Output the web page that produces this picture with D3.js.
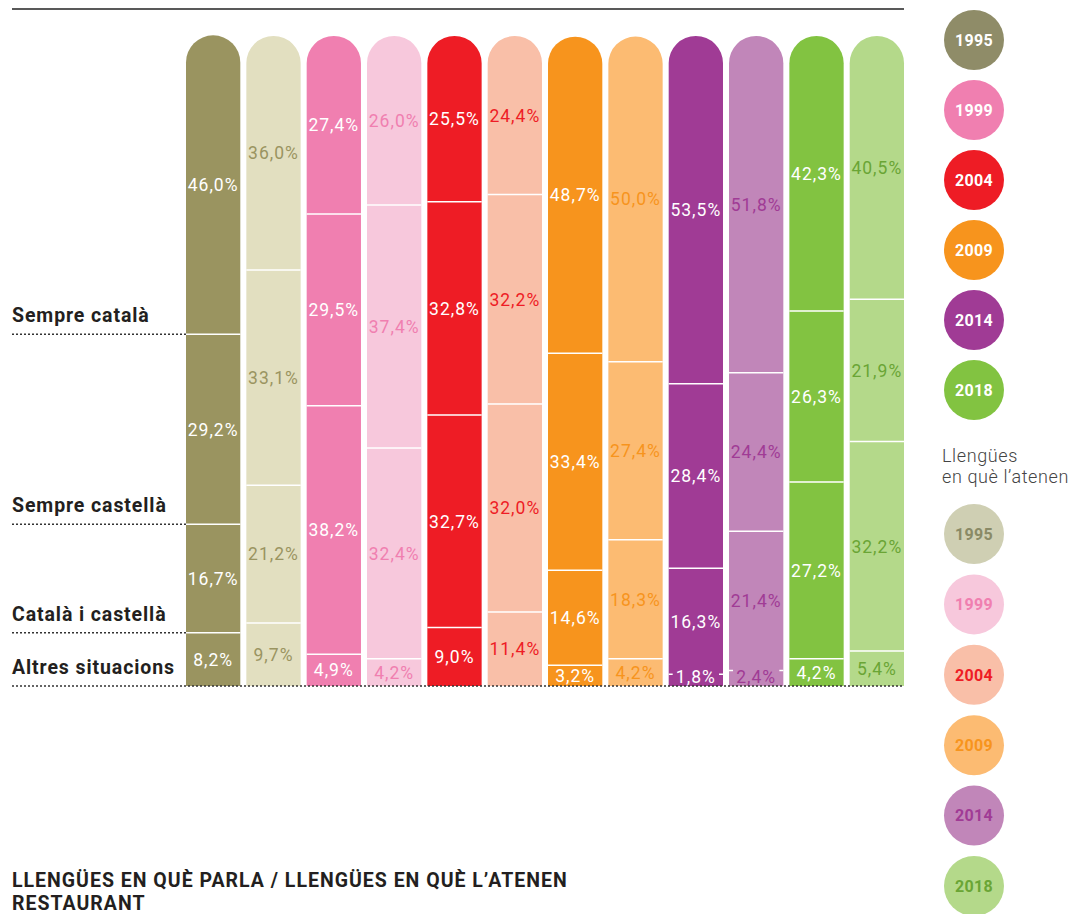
<!DOCTYPE html>
<html lang="ca">
<head>
<meta charset="utf-8">
<script src="https://cdn.jsdelivr.net/npm/d3@7"></script>
<style>
  html, body { margin: 0; padding: 0; background: #fff; }
  svg { display: block; }
</style>
</head>
<body>
<svg id="chart" width="1072" height="914"></svg>
<script>
// Years surveyed and stacked answer categories (bottom to top)
const years = ["1995", "1999", "2004", "2009", "2014", "2018"];
const segments = ["Altres situacions", "Català i castellà", "Sempre castellà", "Sempre català"];

// Languages the client speaks (%)
const parlaAltres   = [8.2, 4.9, 9.0, 3.2, 1.8, 4.2];
const parlaAmbdues  = [16.7, 38.2, 32.7, 14.6, 16.3, 27.2];
const parlaCastella = [29.2, 29.5, 32.8, 33.4, 28.4, 26.3];
const parlaCatala   = [46.0, 27.4, 25.5, 48.7, 53.5, 42.3];

// Languages the client is attended in (%)
const atenenAltres   = [9.7, 4.2, 11.4, 4.2, 2.4, 5.4];
const atenenAmbdues  = [21.2, 32.4, 32.0, 18.3, 21.4, 32.2];
const atenenCastella = [33.1, 37.4, 32.2, 27.4, 24.4, 21.9];
const atenenCatala   = [36.0, 26.0, 24.4, 50.0, 51.8, 40.5];

// Palette per year: strong tone for "parla", soft tone for "atenen"
const darkColors  = ["#9a9460", "#f07fb0", "#ee1c25", "#f7941d", "#a03b95", "#82c341"];
const lightColors = ["#e2dfc0", "#f7c8dc", "#f9bfa8", "#fcbb72", "#c186b9", "#b4d98a"];
const lightText   = ["#9a9460", "#f07fb0", "#ee1c25", "#f7941d", "#a03b95", "#6aa535"];
const legendDark      = ["#8f8c68", "#f07fb0", "#ee1c25", "#f7941d", "#a03b95", "#82c341"];
const legendLight     = ["#cfcfb3", "#f7c8dc", "#f9bfa8", "#fcbb72", "#c186b9", "#b4d98a"];
const legendLightText = ["#8a8a66", "#f07fb0", "#ee1c25", "#f7941d", "#a03b95", "#6aa535"];

const parlaSets  = [parlaAltres, parlaAmbdues, parlaCastella, parlaCatala];
const atenenSets = [atenenAltres, atenenAmbdues, atenenCastella, atenenCatala];

// One bar per year and kind, in drawing order
const bars = [];
years.forEach((yr, i) => {
  bars.push({ key: yr + "-parla", values: parlaSets.map(s => s[i]),
              fill: darkColors[i], text: "#ffffff" });
  bars.push({ key: yr + "-atenen", values: atenenSets.map(s => s[i]),
              fill: lightColors[i], text: lightText[i] });
});

const svg = d3.select("#chart");
const labelFont = "Roboto, 'Open Sans', sans-serif";

const x = d3.scaleBand()
  .domain(bars.map(b => b.key))
  .range([186, 904])
  .paddingInner(0.1)
  .paddingOuter(0);

const y = d3.scaleLinear().domain([0, 100]).range([686, 36]);
const bw = x.bandwidth();
const fmt = v => d3.format(".1f")(v).replace(".", ",") + "%";

// Top rule
svg.append("line")
  .attr("x1", 12).attr("x2", 904).attr("y1", 9).attr("y2", 9)
  .attr("stroke", "#222").attr("stroke-width", 1.6);

// Stacked bars
bars.forEach(b => {
  const g = svg.append("g");
  const x0 = x(b.key);
  let cum = 0;
  const segs = b.values.map((v, j) => {
    const s = { v, j, y0: cum, y1: cum + v };
    cum += v;
    return s;
  });

  segs.forEach((s, j) => {
    const top = y(s.y1), bot = y(s.y0);
    if (j === segs.length - 1) {
      // top segment carries the rounded cap
      const r = bw / 2;
      const p = d3.path();
      p.moveTo(x0, bot);
      p.lineTo(x0, top + r);
      p.arc(x0 + r, top + r, r, Math.PI, 0);
      p.lineTo(x0 + bw, bot);
      p.closePath();
      g.append("path").attr("d", p.toString()).attr("fill", b.fill);
    } else {
      g.append("rect")
        .attr("x", x0).attr("y", top)
        .attr("width", bw).attr("height", bot - top)
        .attr("fill", b.fill);
    }
  });

  // white separators between segments
  segs.slice(0, -1).forEach(s => {
    g.append("line")
      .attr("x1", x0).attr("x2", x0 + bw)
      .attr("y1", y(s.y1)).attr("y2", y(s.y1))
      .attr("stroke", "#fff").attr("stroke-width", 1.5);
  });

  // value labels
  segs.forEach(s => {
    const top = y(s.y1), bot = y(s.y0);
    const small = bot - top < 18;
    const cy = small ? Math.min((top + bot) / 2, bot - 9) : (top + bot) / 2;
    if (small) {
      g.append("rect")
        .attr("x", x0 + 4).attr("y", cy - 8)
        .attr("width", bw - 8).attr("height", 16)
        .attr("fill", b.fill);
    }
    g.append("text")
      .attr("x", x0 + bw / 2)
      .attr("y", cy)
      .attr("dy", "0.36em")
      .attr("text-anchor", "middle")
      .attr("font-family", labelFont)
      .attr("font-weight", 400)
      .attr("font-size", 17.5)
      .attr("letter-spacing", 1)
      .attr("fill", b.text)
      .text(fmt(s.v));
  });
});

// Category guides aligned with the first bar's boundaries
const first = bars[0].values;
const bounds = [];
let acc = 0;
first.forEach(v => { bounds.push(acc); acc += v; });

segments.forEach((name, j) => {
  const yy = y(bounds[j]);
  svg.append("line")
    .attr("x1", 12).attr("x2", j === 0 ? 904 : 186)
    .attr("y1", yy).attr("y2", yy)
    .attr("stroke", "#333").attr("stroke-width", 1.5)
    .attr("stroke-dasharray", "2,2");
  svg.append("text")
    .attr("x", 12).attr("y", yy - 12)
    .attr("font-family", labelFont)
    .attr("font-weight", 700)
    .attr("font-size", 19.5)
    .attr("letter-spacing", 0.9)
    .attr("fill", "#231f20")
    .text(name);
});

// Legend circles
const legendY = d3.scalePoint().domain(years).range([40, 390]);
const legendY2 = d3.scalePoint().domain(years).range([534, 886]);

years.forEach((yr, i) => {
  svg.append("circle")
    .attr("cx", 974).attr("cy", legendY(yr)).attr("r", 30)
    .attr("fill", legendDark[i]);
  svg.append("text")
    .attr("x", 974).attr("y", legendY(yr)).attr("dy", "0.36em")
    .attr("text-anchor", "middle")
    .attr("font-family", labelFont).attr("font-weight", 700)
    .attr("font-size", 16).attr("letter-spacing", 0.3)
    .attr("fill", "#fff")
    .text(yr);

  svg.append("circle")
    .attr("cx", 974).attr("cy", legendY2(yr)).attr("r", 30)
    .attr("fill", legendLight[i]);
  svg.append("text")
    .attr("x", 974).attr("y", legendY2(yr)).attr("dy", "0.36em")
    .attr("text-anchor", "middle")
    .attr("font-family", labelFont).attr("font-weight", 700)
    .attr("font-size", 16).attr("letter-spacing", 0.3)
    .attr("fill", legendLightText[i])
    .text(yr);
});

svg.append("text")
  .attr("x", 942).attr("y", 462)
  .attr("font-family", labelFont).attr("font-weight", 300)
  .attr("font-size", 18).attr("letter-spacing", 0.6).attr("fill", "#444")
  .text("Llengües");
svg.append("text")
  .attr("x", 942).attr("y", 483)
  .attr("font-family", labelFont).attr("font-weight", 300)
  .attr("font-size", 18).attr("letter-spacing", 0.6).attr("fill", "#444")
  .text("en què l’atenen");

// Title
svg.append("text")
  .attr("x", 12).attr("y", 887)
  .attr("font-family", labelFont).attr("font-weight", 700)
  .attr("font-size", 19.5).attr("letter-spacing", 1.0)
  .attr("fill", "#231f20")
  .text("LLENGÜES EN QUÈ PARLA / LLENGÜES EN QUÈ L’ATENEN");
svg.append("text")
  .attr("x", 12).attr("y", 910)
  .attr("font-family", labelFont).attr("font-weight", 700)
  .attr("font-size", 19.5).attr("letter-spacing", 1.0)
  .attr("fill", "#231f20")
  .text("RESTAURANT");
</script>
</body>
</html>
